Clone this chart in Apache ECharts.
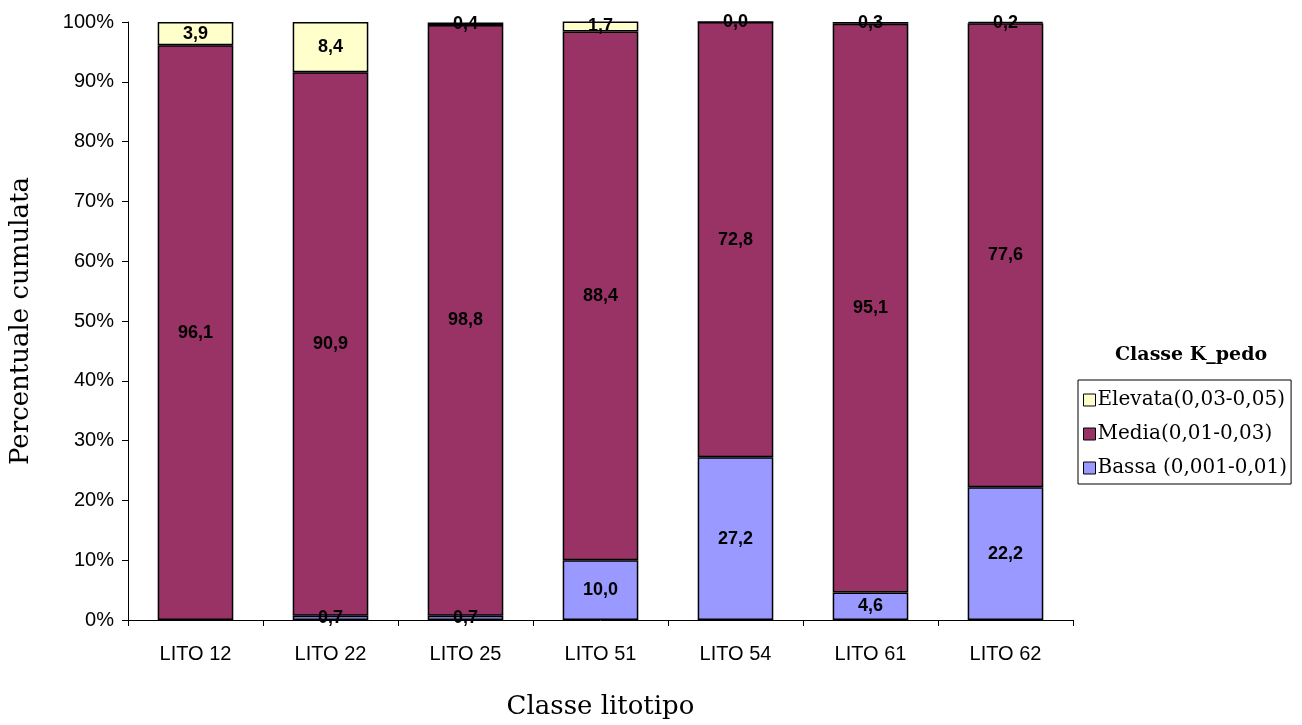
<!DOCTYPE html>
<html>
<head>
<meta charset="utf-8">
<script src="https://cdn.jsdelivr.net/npm/echarts@6/dist/echarts.min.js"></script>
<style>
  html, body { margin: 0; padding: 0; background: #fff; }
  #chart { width: 1302px; height: 725px; }
</style>
</head>
<body>
<div id="chart"></div>
<script>
// Classi litotipo (asse X)
const categories = ['LITO 12', 'LITO 22', 'LITO 25', 'LITO 51', 'LITO 54', 'LITO 61', 'LITO 62'];

// Percentuali per classe K_pedo
const bassa   = [null, 0.7, 0.7, 10.0, 27.2, 4.6, 22.2];
const media   = [96.1, 90.9, 98.8, 88.4, 72.8, 95.1, 77.6];
const elevata = [3.9, 8.4, 0.4, 1.7, 0.0, 0.3, 0.2];

const yTicks = [0, 10, 20, 30, 40, 50, 60, 70, 80, 90, 100];

const seriesNames = ['Bassa (0,001-0,01)', 'Media(0,01-0,03)', 'Elevata(0,03-0,05)'];
const seriesColors = ['#9999FF', '#993366', '#FFFFCC'];

const fmt = v => (v === null || v === undefined) ? '' : v.toFixed(1).replace('.', ',');

function makeSeries(name, data, color) {
  return {
    name: name,
    type: 'bar',
    stack: 'tot',
    barCategoryGap: '44%',
    data: data,
    itemStyle: { color: color, borderColor: '#000', borderWidth: 1.5 },
    label: {
      show: true,
      position: 'inside',
      color: '#000',
      fontFamily: 'Liberation Sans, Arial, sans-serif',
      fontWeight: 'bold',
      fontSize: 18,
      formatter: p => fmt(p.value)
    },
    labelLayout: { hideOverlap: false },
    emphasis: { disabled: true }
  };
}

const chart = echarts.init(document.getElementById('chart'), null, { renderer: 'canvas' });

chart.setOption({
  animation: false,
  backgroundColor: '#fff',
  grid: { left: 128, right: 229, top: 22, bottom: 105, containLabel: false, outerBoundsMode: 'none' },
  xAxis: {
    type: 'category',
    data: categories,
    name: 'Classe litotipo',
    nameLocation: 'middle',
    nameGap: 74,
    nameTextStyle: { fontFamily: 'DejaVu Serif, serif', fontSize: 26, color: '#000' },
    axisLine: { lineStyle: { color: '#000', width: 1 } },
    axisTick: { show: true, alignWithLabel: false, length: 6, lineStyle: { color: '#000' } },
    axisLabel: { color: '#000', fontFamily: 'Liberation Sans, Arial, sans-serif', fontSize: 20, margin: 24 }
  },
  yAxis: {
    type: 'value',
    min: 0,
    max: 100,
    interval: 10,
    name: 'Percentuale cumulata',
    nameLocation: 'middle',
    nameGap: 94,
    nameRotate: 90,
    nameTextStyle: { fontFamily: 'DejaVu Serif, serif', fontSize: 26, color: '#000' },
    axisLine: { show: true, lineStyle: { color: '#000', width: 1 } },
    axisTick: { show: true, inside: false, length: 6, lineStyle: { color: '#000' } },
    splitLine: { show: false },
    axisLabel: {
      color: '#000',
      fontFamily: 'Liberation Sans, Arial, sans-serif',
      fontSize: 20,
      margin: 14,
      customValues: yTicks,
      formatter: v => v + '%'
    }
  },
  title: {
    text: 'Classe K_pedo',
    left: 1110,
    top: 341,
    textStyle: { fontFamily: 'DejaVu Serif, serif', fontSize: 19, fontWeight: 'bold', color: '#000' }
  },
  legend: {
    orient: 'vertical',
    left: 1078,
    top: 380,
    data: seriesNames.slice().reverse(),
    icon: 'rect',
    itemWidth: 12,
    itemHeight: 12,
    itemGap: 14,
    padding: [10, 4, 6, 5],
    borderColor: '#000',
    borderWidth: 1,
    textStyle: { fontFamily: 'DejaVu Serif, serif', fontSize: 20, color: '#000', padding: [0, 0, 0, -3] },
    itemStyle: { borderColor: '#000', borderWidth: 1 }
  },
  series: [
    makeSeries(seriesNames[0], bassa, seriesColors[0]),
    makeSeries(seriesNames[1], media, seriesColors[1]),
    makeSeries(seriesNames[2], elevata, seriesColors[2])
  ]
});
</script>
</body>
</html>
